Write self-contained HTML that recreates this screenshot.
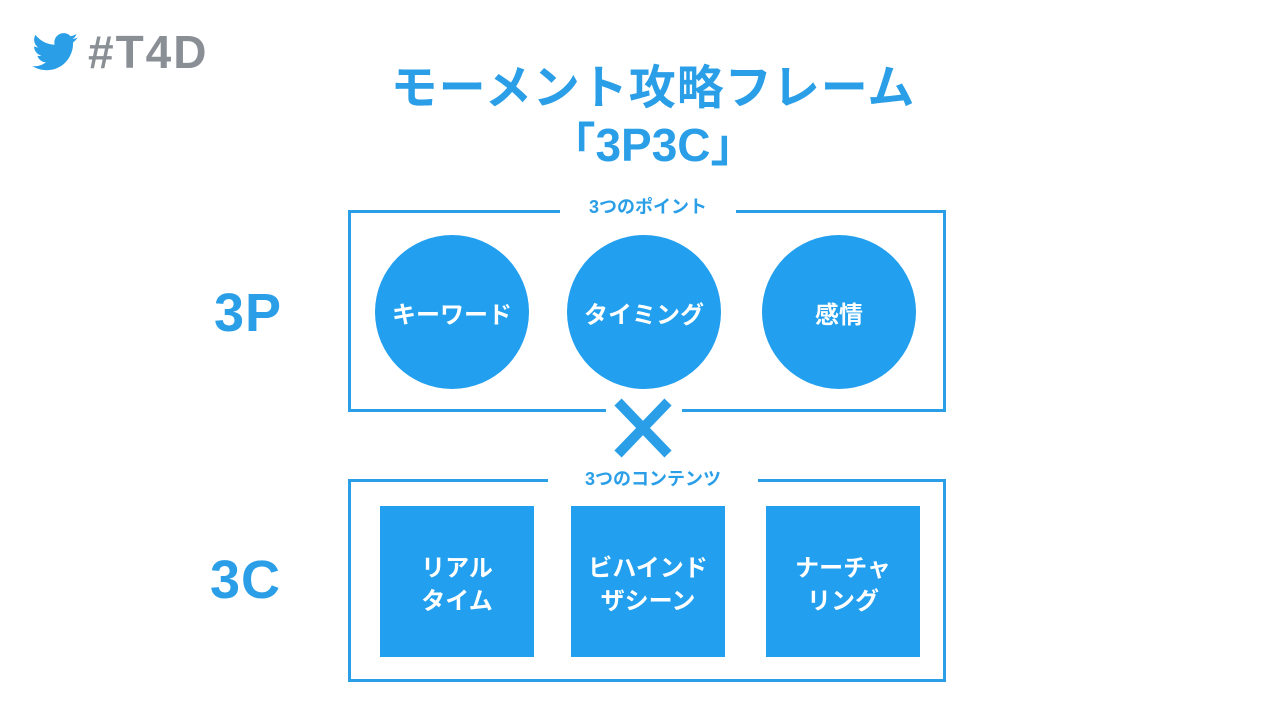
<!DOCTYPE html>
<html><head><meta charset="utf-8"><style>
body{margin:0;width:1280px;height:717px;background:#fff;overflow:hidden;position:relative;font-family:"Liberation Sans","Noto Sans CJK JP",sans-serif;font-weight:bold}
.a{position:absolute}
.box{position:absolute;border:3px solid #2a9fe8;box-sizing:border-box}
.lab{position:absolute;background:#fff;color:#2a9fe8;font-size:18px;padding:0 10px;text-align:center;line-height:22px}
.c{position:absolute;width:154px;height:154px;border-radius:50%;background:#229fee;color:#fff;font-size:24px;display:flex;align-items:center;justify-content:center}
.s{position:absolute;width:154px;height:151px;background:#229fee;color:#fff;font-size:24px;display:flex;align-items:center;justify-content:center;text-align:center;line-height:33px;padding-top:6px;box-sizing:border-box}
</style></head><body>
<svg class="a" style="left:32px;top:33px" width="46" height="38" viewBox="0 0 24 20"><path fill="#2a9fe8" d="M24 2.4a9.8 9.8 0 0 1-2.8.8A4.9 4.9 0 0 0 23.3.5a9.8 9.8 0 0 1-3.1 1.2A4.9 4.9 0 0 0 11.8 6.2 14 14 0 0 1 1.7 1 4.9 4.9 0 0 0 3.2 7.6a4.9 4.9 0 0 1-2.2-.6 4.9 4.9 0 0 0 3.9 4.9 4.9 4.9 0 0 1-2.2.1 4.9 4.9 0 0 0 4.6 3.4A9.9 9.9 0 0 1 0 17.4 14 14 0 0 0 7.5 19.6c9.1 0 14-7.5 14-14v-.6A10 10 0 0 0 24 2.4z"/></svg>
<div class="a" style="left:88px;top:26px;font-size:46px;letter-spacing:2px;color:#8a8f96;line-height:52px">#T4D</div>
<div class="a" style="left:250px;width:806px;top:60px;text-align:center;font-size:47px;letter-spacing:1px;color:#2a9fe8;line-height:56px">モーメント攻略フレーム</div>
<div class="a" style="left:250px;width:806px;top:117px;text-align:center;font-size:46px;color:#2a9fe8;line-height:56px">「3P3C」</div>
<div class="a" style="left:214px;top:283px;font-size:54px;letter-spacing:1px;color:#2a9fe8;line-height:60px">3P</div>
<div class="a" style="left:210px;top:550px;font-size:54px;letter-spacing:1px;color:#2a9fe8;line-height:60px">3C</div>
<div class="box" style="left:348px;top:210px;width:598px;height:202px"></div>
<div class="lab" style="left:560px;top:196px;width:156px">3つのポイント</div>
<div class="c" style="left:375px;top:235px">キーワード</div>
<div class="c" style="left:567px;top:235px">タイミング</div>
<div class="c" style="left:762px;top:235px">感情</div>
<div class="box" style="left:348px;top:479px;width:598px;height:203px"></div>
<div class="lab" style="left:548px;top:468px;width:190px">3つのコンテンツ</div>
<div class="a" style="left:606px;top:396px;width:76px;height:66px;background:#fff"></div>
<svg class="a" style="left:612px;top:398px" width="62" height="60"><path d="M6 4L56 56M56 4L6 56" stroke="#2a9fe8" stroke-width="10"/></svg>
<div class="s" style="left:380px;top:506px">リアル<br>タイム</div>
<div class="s" style="left:571px;top:506px">ビハインド<br>ザシーン</div>
<div class="s" style="left:766px;top:506px">ナーチャ<br>リング</div>
</body></html>
